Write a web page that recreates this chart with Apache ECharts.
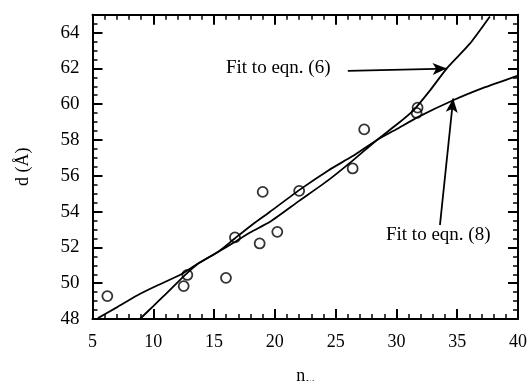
<!DOCTYPE html>
<html>
<head>
<meta charset="utf-8">
<script src="https://cdn.jsdelivr.net/npm/echarts@6/dist/echarts.min.js"></script>
<style>
  html, body { margin: 0; padding: 0; background: #fff; }
  #chart { width: 529px; height: 381px; }
</style>
</head>
<body>
<div id="chart"></div>
<script>
// measured points
var nwObs = [6.22, 12.5, 12.8, 15.98, 16.72, 18.75, 19.0, 20.2, 22.0, 26.4, 27.35, 31.74, 31.66];
var dObs  = [49.28, 49.84, 50.46, 50.30, 52.56, 52.22, 55.10, 52.87, 55.16, 56.41, 58.59, 59.81, 59.51];

// fit to eqn. (6)
var fit6X = [8.9, 10.0, 11.0, 12.0, 13.0, 13.6, 14.5, 15.35, 16.7, 18.0, 19.6, 22.0, 24.4, 26.4, 28.37, 30.0, 31.4, 32.8, 34.13, 36.04, 37.69];
var fit6Y = [48.0, 48.72, 49.38, 50.05, 50.7, 51.05, 51.42, 51.76, 52.3, 52.85, 53.43, 54.6, 55.76, 56.85, 57.99, 58.85, 59.66, 60.8, 61.99, 63.38, 64.9];

// fit to eqn. (8)
var fit8X = [5.45, 7, 8.74, 10.1, 12.3, 13.68, 15.35, 16.7, 18, 19.6, 22, 24.4, 26.4, 28.37, 30, 31.8, 34.67, 37.3, 40];
var fit8Y = [48.05, 48.65, 49.34, 49.8, 50.5, 51.1, 51.76, 52.5, 53.2, 53.99, 55.2, 56.3, 57.1, 57.99, 58.6, 59.29, 60.22, 60.95, 61.6];

// annotation arrows (data coords: start -> tip)
var arrow6 = [[26.0, 61.86], [34.13, 61.99]];
var arrow8 = [[33.58, 53.25], [34.67, 60.32]];

var FONT = '"Liberation Serif", "DejaVu Serif", serif';

function pairs(xs, ys) {
    var out = [];
    for (var i = 0; i < xs.length; i++) out.push([xs[i], ys[i]]);
    return out;
}

function xAxisCfg(pos, showLabel) {
    return {
        type: 'value', position: pos, min: 5, max: 40, interval: 5,
        axisLine: { show: true, onZero: false, lineStyle: { color: '#000', width: 2 } },
        axisTick: { show: true, inside: true, length: 10, lineStyle: { color: '#000', width: 2 } },
        minorTick: { show: true, splitNumber: 5, length: 5, lineStyle: { color: '#000', width: 1.5 } },
        axisLabel: { show: showLabel, color: '#000', fontFamily: FONT, fontSize: 18, margin: 14 },
        splitLine: { show: false }
    };
}

function yAxisCfg(pos, showLabel) {
    return {
        type: 'value', position: pos, min: 48, max: 65, interval: 2,
        axisLine: { show: true, onZero: false, lineStyle: { color: '#000', width: 2 } },
        axisTick: { show: true, inside: true, length: 10, lineStyle: { color: '#000', width: 2 } },
        minorTick: { show: true, splitNumber: 4, length: 5, lineStyle: { color: '#000', width: 1.5 } },
        axisLabel: {
            show: showLabel, color: '#000', fontFamily: FONT, fontSize: 19, margin: 13,
            formatter: function (v) { return v % 2 === 0 ? String(v) : ''; }
        },
        splitLine: { show: false }
    };
}

var chart = echarts.init(document.getElementById('chart'));

var xb = xAxisCfg('bottom', true);
xb.name = '{n|n}{w|w}';
xb.nameLocation = 'middle';
xb.nameGap = 46;
xb.nameTextStyle = {
    color: '#000', fontFamily: FONT,
    rich: {
        n: { fontFamily: FONT, fontSize: 18, color: '#000' },
        w: { fontFamily: FONT, fontSize: 11, color: '#000', padding: [12, 0, 0, 1] }
    }
};

var yl = yAxisCfg('left', true);
yl.name = 'd (Å)';
yl.nameLocation = 'middle';
yl.nameGap = 60;
yl.nameTextStyle = { color: '#000', fontFamily: FONT, fontSize: 18 };

var arrowLine = {
    silent: true,
    symbol: ['none', 'arrow'],
    symbolSize: [9, 14],
    label: { show: false },
    lineStyle: { color: '#000', width: 1.8, type: 'solid' },
    data: [
        [{ coord: arrow6[0] }, { coord: arrow6[1] }],
        [{ coord: arrow8[0] }, { coord: arrow8[1] }]
    ]
};

var option = {
    animation: false,
    backgroundColor: '#fff',
    grid: { left: 92.5, right: 11, top: 14.7, bottom: 62, containLabel: false, outerBoundsMode: 'none' },
    xAxis: [xb, xAxisCfg('top', false)],
    yAxis: [yl, yAxisCfg('right', false)],
    series: [
        {
            name: 'Fit to eqn. (6)', type: 'line', data: pairs(fit6X, fit6Y),
            showSymbol: false, smooth: 0.2,
            lineStyle: { color: '#000', width: 1.8 },
            markLine: arrowLine
        },
        {
            name: 'Fit to eqn. (8)', type: 'line', data: pairs(fit8X, fit8Y),
            showSymbol: false, smooth: 0.2,
            lineStyle: { color: '#000', width: 1.8 }
        },
        {
            name: 'data', type: 'scatter', data: pairs(nwObs, dObs),
            symbol: 'circle', symbolSize: 10,
            itemStyle: { color: 'transparent', borderColor: '#000', borderWidth: 1.8 }
        }
    ],
    graphic: [
        {
            type: 'text', left: 226, top: 59,
            style: { text: 'Fit to eqn. (6)', font: '19px ' + FONT, fill: '#000' }
        },
        {
            type: 'text', left: 386, top: 226,
            style: { text: 'Fit to eqn. (8)', font: '19px ' + FONT, fill: '#000' }
        }
    ]
};

chart.setOption(option);
</script>
</body>
</html>
